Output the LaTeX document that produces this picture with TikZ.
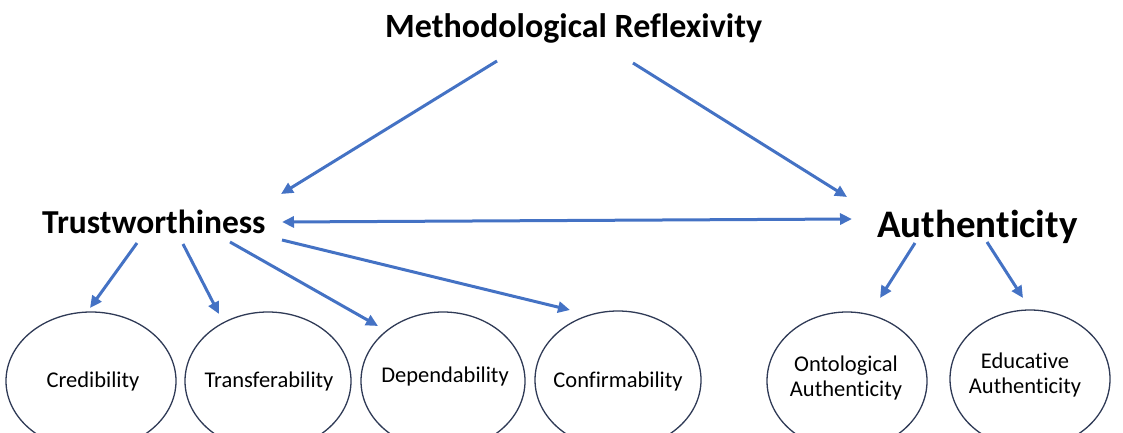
\documentclass[tikz,border=0pt]{standalone}
\usepackage{fontspec}
\setmainfont[Ligatures=NoCommon]{Carlito}
\usetikzlibrary{arrows.meta,shapes.geometric}
\definecolor{arrowblue}{HTML}{4472C4}
\definecolor{ovalline}{HTML}{2F3A56}

\begin{document}
\begin{tikzpicture}[x=1pt,y=-1pt,
  head/.style={inner sep=0pt, anchor=base west, font=\bfseries\fontsize{#1}{#1}\selectfont},
  oval/.style={ellipse, draw=ovalline, line width=1.3pt, inner sep=0pt,
    minimum width=#1, minimum height=138pt},
  oval/.default=164pt,
  ovaltext/.style={inner sep=0pt, align=center, font=\fontsize{22.5}{25}\selectfont},
  arr/.style={draw=arrowblue, line width=3pt,
    -{Triangle[length=12pt,width=11pt]}},
  biarr/.style={draw=arrowblue, line width=3pt,
    {Triangle[length=12pt,width=11pt]}-{Triangle[length=12pt,width=11pt]}}]
  \useasboundingbox (0,0) rectangle (1123,433);

  % headings
  \node[head=34] (mr) at (385,38) {Methodological Reflexivity};
  \node[head=33.5] (trust) at (42,233) {Trustworthiness};
  \node[head=39] (auth) at (877,237) {Authenticity};

  % criteria ovals
  \node[oval=170pt] (cred) at (91,381) {};
  \node[oval=166pt] (trans) at (268,381) {};
  \node[oval=164pt] (dep) at (443,381) {};
  \node[oval=166pt] (conf) at (618,380) {};
  \node[oval=160pt] (onto) at (847,381) {};
  \node[oval=160pt] (edu) at (1030,379) {};

  % criteria labels
  \node[ovaltext] (credT) at (93,381) {Credibility};
  \node[ovaltext] (transT) at (269,381) {Transferability};
  \node[ovaltext] (depT) at (445,376) {Dependability};
  \node[ovaltext] (confT) at (618,381) {Confirmability};
  \node[ovaltext] (ontoT) at (846,378) {Ontological\\Authenticity};
  \node[ovaltext] (eduT) at (1025,375) {Educative\\Authenticity};

  % connector end points
  \coordinate (mrL) at (497,61);
  \coordinate (mrR) at (633,63);
  \coordinate (trIn) at (281,194);
  \coordinate (auIn) at (847,197);
  \coordinate (trE) at (282,222);
  \coordinate (auW) at (852,219);
  \coordinate (tr1) at (137,243);
  \coordinate (tr2) at (183,244);
  \coordinate (tr3) at (230,242);
  \coordinate (tr4) at (282,240);
  \coordinate (credIn) at (90,308);
  \coordinate (transIn) at (219,314);
  \coordinate (depIn) at (378,326);
  \coordinate (confIn) at (570,310);
  \coordinate (au1) at (915,243);
  \coordinate (au2) at (987,242);
  \coordinate (ontoIn) at (880,298);
  \coordinate (eduIn) at (1023,298);

  % connectors
  \draw[arr] (mrL) -- (trIn);
  \draw[arr] (mrR) -- (auIn);
  \draw[biarr] (trE) -- (auW);
  \draw[arr] (tr1) -- (credIn);
  \draw[arr] (tr2) -- (transIn);
  \draw[arr] (tr3) -- (depIn);
  \draw[arr] (tr4) -- (confIn);
  \draw[arr] (au1) -- (ontoIn);
  \draw[arr] (au2) -- (eduIn);
\end{tikzpicture}
\end{document}
